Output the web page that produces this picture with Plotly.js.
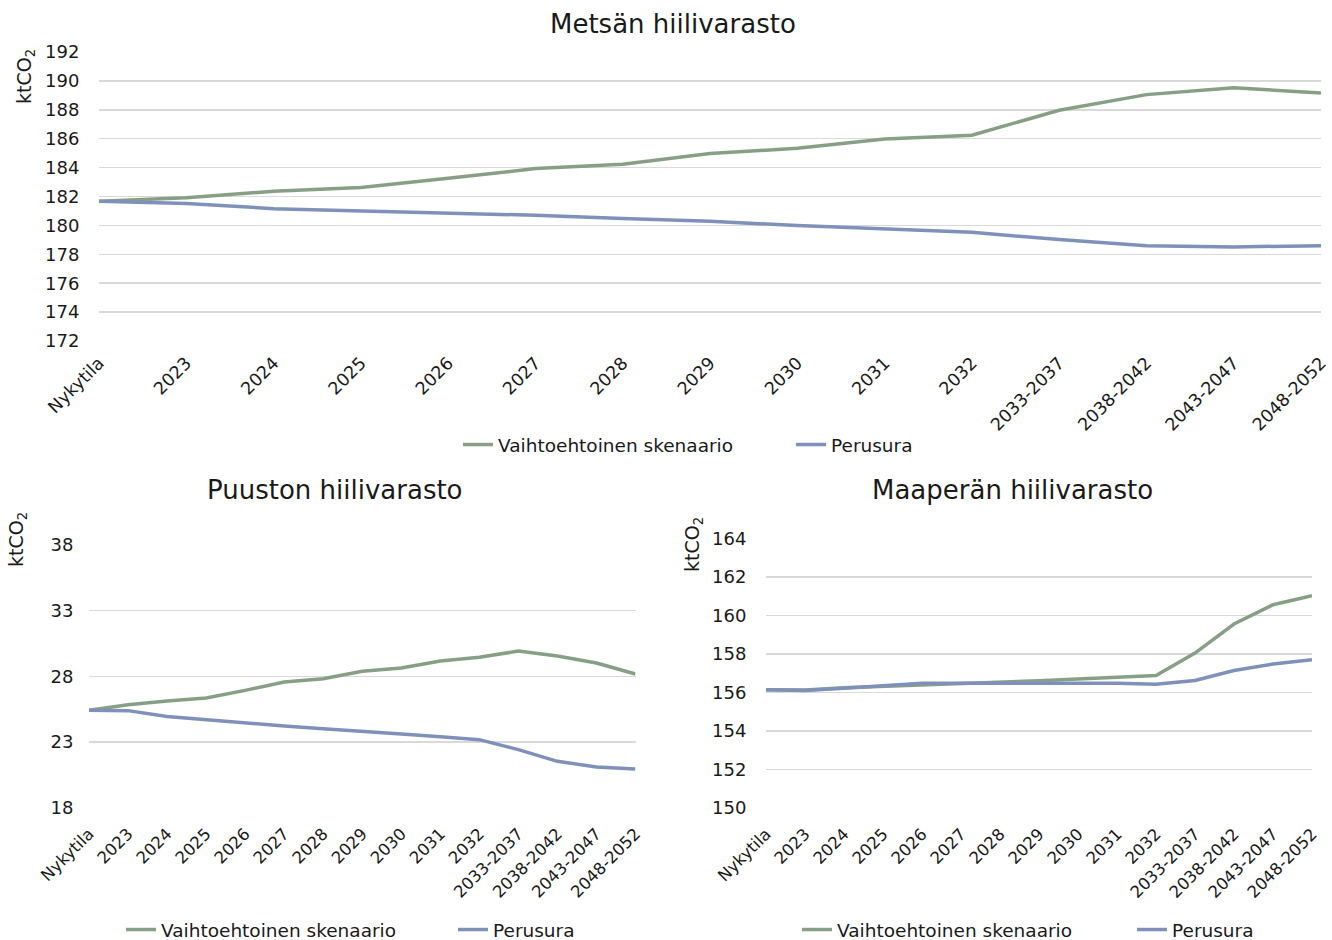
<!DOCTYPE html>
<html>
<head>
<meta charset="utf-8">
<script src="https://cdn.plot.ly/plotly-3.0.1.min.js"></script>
<style>html,body{margin:0;padding:0;background:#fff;}#chart{width:1332px;height:940px;}</style>
</head>
<body>
<div id="chart"></div>
<script>
const categories = ["Nykytila","2023","2024","2025","2026","2027","2028","2029","2030","2031","2032","2033-2037","2038-2042","2043-2047","2048-2052"];
const seriesNames = ["Vaihtoehtoinen skenaario","Perusura"];

const metsaVaihtoehto = [181.67,181.92,182.36,182.62,183.26,183.93,184.23,184.97,185.34,185.98,186.24,187.97,189.05,189.52,189.17];
const metsaPerusura   = [181.67,181.51,181.16,181.02,180.90,180.70,180.47,180.28,179.99,179.78,179.52,179.02,178.60,178.51,178.60];

const puustoVaihtoehto = [25.41,25.84,26.12,26.35,26.93,27.57,27.82,28.38,28.63,29.17,29.45,29.93,29.55,29.02,28.18];
const puustoPerusura   = [25.41,25.39,24.95,24.70,24.45,24.22,24.02,23.84,23.61,23.41,23.18,22.42,21.53,21.10,20.94];

const maaperaVaihtoehto = [156.14,156.12,156.24,156.31,156.38,156.45,156.50,156.61,156.69,156.80,156.88,158.04,159.55,160.55,161.02];
const maaperaPerusura   = [156.14,156.10,156.22,156.33,156.47,156.48,156.50,156.48,156.47,156.47,156.42,156.62,157.14,157.47,157.70];

const titles = ["Metsän hiilivarasto","Puuston hiilivarasto","Maaperän hiilivarasto"];
const yUnit = "ktCO<sub>2</sub>";

const GREEN = "#87A085";
const BLUE = "#7F91BB";
const FONT = "DejaVu Sans";
const W = 1332, H = 940;

function tr(y, name, color, xa, ya, lg) {
  return {x: categories, y: y, name: name, type: "scatter", mode: "lines",
    line: {color: color, width: 3.5}, xaxis: xa, yaxis: ya, legend: lg, hoverinfo: "skip"};
}

const data = [
  tr(metsaVaihtoehto, seriesNames[0], GREEN, "x", "y", "legend"),
  tr(metsaPerusura, seriesNames[1], BLUE, "x", "y", "legend2"),
  tr(puustoVaihtoehto, seriesNames[0], GREEN, "x2", "y2", "legend3"),
  tr(puustoPerusura, seriesNames[1], BLUE, "x2", "y2", "legend4"),
  tr(maaperaVaihtoehto, seriesNames[0], GREEN, "x3", "y3", "legend5"),
  tr(maaperaPerusura, seriesNames[1], BLUE, "x3", "y3", "legend6")
];

function xax(dom, fs, anchor, tl) {
  return {domain: dom, type: "category", range: [0, 14], tickangle: -45, showgrid: false, zeroline: false,
    showline: false, ticks: "outside", ticklen: tl, tickcolor: "rgba(0,0,0,0)", anchor: anchor,
    tickfont: {family: FONT, size: fs, color: "#1a1a1a"}, fixedrange: true, automargin: false};
}
function yax(dom, range, dtick, anchor, fs, tl) {
  return {domain: dom, range: range, dtick: dtick, tick0: range[0], showgrid: true, gridcolor: "#d9d9d9", gridwidth: 1.5,
    zeroline: false, showline: false, ticks: "outside", ticklen: tl, tickcolor: "rgba(0,0,0,0)", anchor: anchor,
    tickfont: {family: FONT, size: fs, color: "#1a1a1a"}, fixedrange: true, automargin: false};
}
function lg(textX, cy) {
  return {orientation: "h", x: (textX - 40) / W, y: 1 - cy / H, xanchor: "left", yanchor: "middle",
    font: {family: FONT, size: 18.5, color: "#1a1a1a"}, bgcolor: "rgba(0,0,0,0)", borderwidth: 0};
}
function ann(text, x, y, size, angle) {
  return {text: text, x: x / W, y: 1 - y / H, xref: "paper", yref: "paper", showarrow: false,
    xanchor: "center", yanchor: "middle", textangle: angle || 0,
    font: {family: FONT, size: size, color: "#1a1a1a"}};
}

const layout = {
  width: W, height: H, margin: {l: 0, r: 0, t: 0, b: 0, pad: 0, autoexpand: false},
  paper_bgcolor: "#fff", plot_bgcolor: "#fff",
  showlegend: true,
  xaxis: xax([99 / W, 1321 / W], 17.5, "y", 4),
  yaxis: yax([1 - 341 / H, 1 - 52 / H], [172, 192], 2, "x", 18, 15),
  xaxis2: xax([89 / W, 635.5 / W], 16.5, "y2", 9),
  yaxis2: yax([1 - 807.7 / H, 1 - 545 / H], [18, 38], 5, "x2", 18, 11),
  xaxis3: xax([766 / W, 1312 / W], 16.5, "y3", 9),
  yaxis3: yax([1 - 808 / H, 1 - 538.3 / H], [150, 164], 2, "x3", 18, 15),
  legend: lg(498, 445),
  legend2: lg(831, 445),
  legend3: lg(161, 930),
  legend4: lg(493, 930),
  legend5: lg(837, 930),
  legend6: lg(1172, 930),
  annotations: [
    ann(titles[0], 673, 24, 26),
    ann(titles[1], 335, 490, 26),
    ann(titles[2], 1012, 490, 26),
    ann(yUnit, 25, 77, 19, -90),
    ann(yUnit, 17, 540, 19, -90),
    ann(yUnit, 693, 545, 19, -90)
  ]
};

Plotly.newPlot("chart", data, layout, {staticPlot: true, displayModeBar: false});
</script>
</body>
</html>
